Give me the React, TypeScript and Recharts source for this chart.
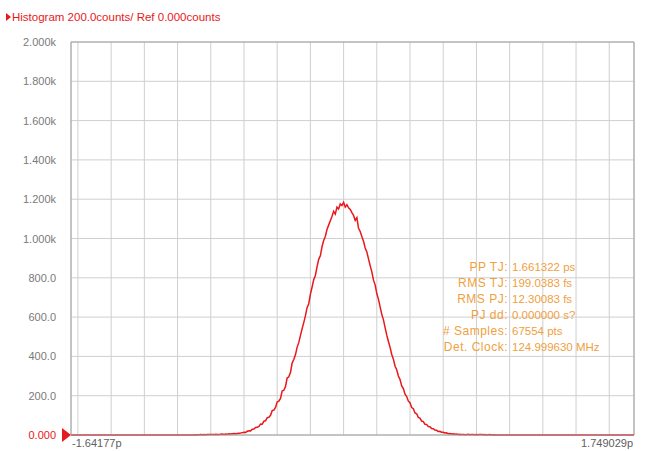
import React from 'react';
import { LineChart, Line, XAxis, YAxis, CartesianGrid, ReferenceLine } from 'recharts';

const RED = '#e8191c';
const ORANGE = '#f0a040';
const FONT = '"Liberation Sans", Arial, sans-serif';

// x axis span (ps) and the two end labels
const X_MIN = -1.64177;
const X_MAX = 1.749029;
const X_LABELS = ['-1.64177p', '1.749029p'];

// vertical grid every 0.2 ps
const GRID_X = [-1.6, -1.4, -1.2, -1.0, -0.8, -0.6, -0.4, -0.2, 0, 0.2, 0.4, 0.6, 0.8, 1.0, 1.2, 1.4, 1.6];

const Y_TICKS = [0, 200, 400, 600, 800, 1000, 1200, 1400, 1600, 1800, 2000];
const Y_LABELS = ['0.000', '200.0', '400.0', '600.0', '800.0', '1.000k', '1.200k', '1.400k', '1.600k', '1.800k', '2.000k'];

// histogram bins: first bin at -0.90 ps, 0.01 ps wide
const BIN_START = -0.9;
const BIN_STEP = 0.01;
const COUNTS = [
  0, 1, 0, 1, 2, 1, 2, 1, 3, 2, 2, 3, 2, 4, 3, 2, 4, 5, 3, 5, 4, 6, 5, 6, 7, 6, 8, 9, 10, 12,
  14, 13, 19, 22, 21, 29, 30, 38, 39, 44, 56, 55, 70, 72, 88, 90, 100, 124, 127, 140,
  168, 172, 186, 224, 228, 246, 290, 296, 318, 366,
  384, 408, 446, 470, 506, 540, 572, 606, 648, 668, 716, 752, 790, 812, 856, 894, 912, 958, 990, 1010,
  1046, 1068, 1090, 1112, 1138, 1124, 1160, 1150, 1176, 1168,
  1184, 1160, 1172, 1156, 1148, 1132, 1118, 1092, 1106, 1052,
  1036, 1010, 986, 952, 932, 896, 862, 830, 788, 764,
  720, 690, 652, 614, 586, 546, 508, 476, 446, 410,
  386, 350, 332, 300, 282, 250, 236, 208, 196, 172,
  164, 140, 134, 112, 108, 90, 86, 71, 68, 55,
  54, 43, 42, 33, 32, 25, 24, 18, 19, 14, 14,
  10, 11, 7, 8, 5, 6, 4, 5, 3, 4, 2, 3, 1, 2, 4, 1, 2, 3, 1, 2, 1, 3, 2, 1, 2, 0, 1, 2, 0, 1, 0, 0,
];

const STAT_LABELS = ['PP TJ:', 'RMS TJ:', 'RMS PJ:', 'PJ dd:', '# Samples:', 'Det. Clock:'];
const STAT_VALUES = ['1.661322 ps', '199.0383 fs', '12.30083 fs', '0.000000 s?', '67554 pts', '124.999630 MHz'];

const data = [
  { t: X_MIN, n: 0 },
  ...COUNTS.map((n, i) => ({ t: +(BIN_START + i * BIN_STEP).toFixed(2), n })),
  { t: X_MAX, n: 0 },
];

const YTick = (props: any) => {
  const { x, y, payload } = props;
  const isZero = payload.value === 0;
  return (
    <g>
      <text x={x} y={y} dy={4} textAnchor="end" fill={isZero ? RED : '#7a7a7a'} fontSize={11} fontFamily={FONT}>
        {Y_LABELS[Y_TICKS.indexOf(payload.value)]}
      </text>
      {isZero && <polygon points={`${x + 6},${y - 7} ${x + 15},${y} ${x + 6},${y + 7}`} fill={RED} />}
    </g>
  );
};

const XTick = (props: any) => {
  const { x, y, index } = props;
  const first = index === 0;
  return (
    <text x={first ? x + 1 : x - 1} y={y} dy={12} textAnchor={first ? 'start' : 'end'} fill="#606060" fontSize={11} fontFamily={FONT}>
      {X_LABELS[index]}
    </text>
  );
};

export default function App() {
  return (
    <div style={{ position: 'absolute', left: 0, top: 0, width: 645, height: 451, background: '#fff' }}>
      <LineChart width={645} height={451} data={data} margin={{ top: 42, right: 11, bottom: 0, left: 11 }}>
        <CartesianGrid stroke="#cfcfcf" xAxisId="grid" />
        <XAxis
          xAxisId="grid"
          dataKey="t"
          type="number"
          domain={[X_MIN, X_MAX]}
          ticks={GRID_X}
          interval={0}
          allowDataOverflow
          hide
        />
        <XAxis
          dataKey="t"
          type="number"
          domain={[X_MIN, X_MAX]}
          ticks={[X_MIN, X_MAX]}
          interval={0}
          allowDataOverflow
          height={16}
          tickSize={0}
          tickMargin={0}
          axisLine={{ stroke: '#a0a0a0' }}
          tick={<XTick />}
        />
        <YAxis
          type="number"
          domain={[0, 2000]}
          ticks={Y_TICKS}
          interval={0}
          width={60}
          tickSize={0}
          tickMargin={15}
          axisLine={{ stroke: '#a0a0a0' }}
          tick={<YTick />}
        />
        <ReferenceLine x={X_MAX} stroke="#a0a0a0" />
        <ReferenceLine y={2000} stroke="#a0a0a0" />
        <Line
          type="linear"
          dataKey="n"
          stroke={RED}
          strokeWidth={1.5}
          dot={false}
          isAnimationActive={false}
        />
      </LineChart>

      <div style={{ position: 'absolute', left: 6, top: 10, fontFamily: FONT, fontSize: 11.5, color: RED, whiteSpace: 'nowrap', lineHeight: '14px' }}>
        <span style={{ display: 'inline-block', width: 0, height: 0, borderTop: '4px solid transparent', borderBottom: '4px solid transparent', borderLeft: `5px solid ${RED}`, marginRight: 1 }} />
        Histogram 200.0counts/ Ref 0.000counts
      </div>

      <div style={{ position: 'absolute', right: 137, top: 259, fontFamily: FONT, fontSize: 12, letterSpacing: 0.5, color: ORANGE, textAlign: 'right', lineHeight: '16px' }}>
        {STAT_LABELS.map((s) => <div key={s}>{s}</div>)}
      </div>
      <div style={{ position: 'absolute', left: 512, top: 259, fontFamily: FONT, fontSize: 11.5, color: ORANGE, whiteSpace: 'nowrap', lineHeight: '16px' }}>
        {STAT_VALUES.map((s) => <div key={s}>{s}</div>)}
      </div>
    </div>
  );
}
